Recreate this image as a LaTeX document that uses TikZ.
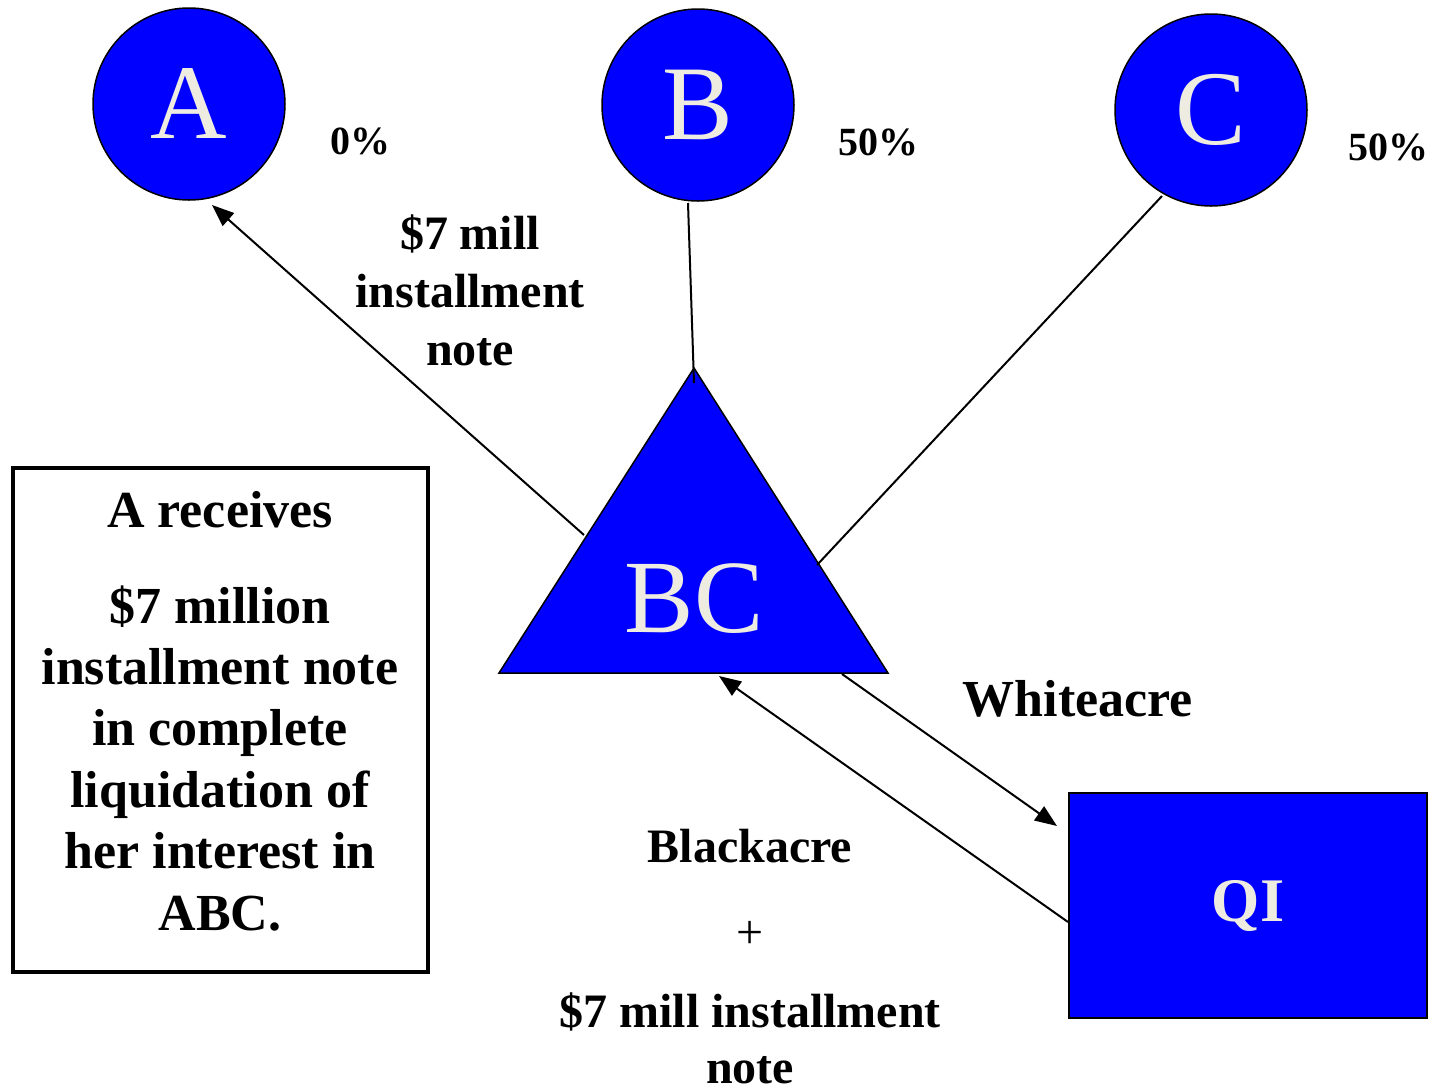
\documentclass[tikz,border=0pt]{standalone}
\usepackage{fontspec}
\setmainfont{Liberation Serif}
\usetikzlibrary{arrows.meta}
\definecolor{nodeblue}{RGB}{0,0,255}
\definecolor{lettercol}{RGB}{238,236,225}
\begin{document}
\begin{tikzpicture}[x=1pt,y=-1pt,
  party/.style={circle, draw=black, line width=1.5pt, fill=nodeblue, minimum size=192pt, inner sep=0pt, text=lettercol, font=\fontsize{106}{106}\selectfont},
  link/.style={draw=black, line width=2pt},
  arr/.style={link, -{Triangle[length=22pt,width=17pt]}},
  lbl/.style={font=\bfseries\fontsize{48}{58}\selectfont, align=center, inner sep=0pt},
  pct/.style={font=\bfseries\fontsize{40}{40}\selectfont, inner sep=0pt, anchor=base},
  qibox/.style={rectangle, draw=black, line width=1.5pt, fill=nodeblue, minimum width=358pt, minimum height=225pt, inner sep=0pt, text=lettercol, font=\bfseries\fontsize{62}{62}\selectfont},
  notebox/.style={rectangle, draw=black, line width=4pt, minimum width=415pt, minimum height=504pt, inner sep=0pt},
  tri/.style={draw=black, line width=1.5pt, fill=nodeblue}]
\useasboundingbox (0,0) rectangle (1436,1088);

% parties
\node[party] (A) at (189,104) {A};
\node[party] (B) at (698,105) {B};
\node[party] (C) at (1211,110) {C};

% partnership triangle
\coordinate (BCtop) at (694,368);
\coordinate (BCbl) at (499,673);
\coordinate (BCbr) at (888,673);
\path[tri] (BCtop) -- (BCbl) -- (BCbr) -- cycle;
\node[text=lettercol, inner sep=0pt, font=\fontsize{104}{104}\selectfont] (BC) at (694,599) {BC};

% qualified intermediary
\node[qibox] (QI) at (1248,905.5) {QI};

% text box
\node[notebox] (box) at (220.5,720) {};

% connector end points
\coordinate (Aend) at (584,535);
\coordinate (Atip) at (212,205);
\coordinate (Bend) at (694,383);
\coordinate (Bstart) at (688,203);
\coordinate (Cstart) at (1162,196);
\coordinate (Cend) at (817,565);
\coordinate (Wstart) at (842,674);
\coordinate (Wtip) at (1057,826);
\coordinate (Bkstart) at (1068,922);
\coordinate (Bktip) at (719,676);

\draw[arr] (Aend) -- (Atip);
\draw[link] (Bstart) -- (Bend);
\draw[link] (Cstart) -- (Cend);
\draw[arr] (Wstart) -- (Wtip);
\draw[arr] (Bkstart) -- (Bktip);

% labels
\node[pct] (pA) at (360,154) {0\%};
\node[pct] (pB) at (878,155) {50\%};
\node[pct] (pC) at (1388,160) {50\%};

\node[lbl, anchor=base] (note1) at (470,365) {\$7 mill\\installment\\note};

\node[font=\bfseries\fontsize{52}{52}\selectfont, inner sep=0pt, anchor=base] (white) at (1078,716) {Whiteacre};

\node[lbl, anchor=base, font=\bfseries\fontsize{48}{56}\selectfont] (black) at (750,1083)
  {Blackacre\\[30pt]{\mdseries +}\\[23pt]\$7 mill installment\\note};

\node[anchor=base, align=center, inner sep=0pt, font=\bfseries\fontsize{52}{61.4}\selectfont] (boxtext) at (220,930)
  {A receives\\[34.6pt]\$7 million\\installment note\\in complete\\liquidation of\\her interest in\\ABC.};
\end{tikzpicture}
\end{document}
